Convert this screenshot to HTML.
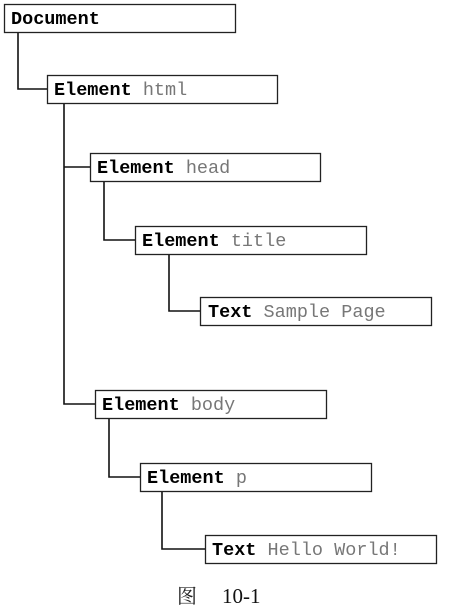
<!DOCTYPE html>
<html><head><meta charset="utf-8"><style>
html,body{margin:0;padding:0;background:#fff;width:451px;height:608px;overflow:hidden}
svg{display:block}
text{font-family:"Liberation Mono",monospace;font-size:18.5px}
.b{font-weight:bold;fill:#000}
.g{fill:#777}
</style></head><body>
<svg width="451" height="608" xmlns="http://www.w3.org/2000/svg">
<g fill="none" stroke="#111" stroke-width="1.6">
<path d="M18 33V89H47"/>
<path d="M64 103V404H95M64 167H90"/>
<path d="M104 181V240H135"/>
<path d="M169 254V311H201"/>
<path d="M109 418V477H140"/>
<path d="M162 491V549H205"/>
</g>
<g fill="#fff" stroke="#222" stroke-width="1.3">
<rect x="4.5" y="4.5" width="231" height="28"/>
<rect x="47.5" y="75.5" width="230" height="28"/>
<rect x="90.5" y="153.5" width="230" height="28"/>
<rect x="135.5" y="226.5" width="231" height="28"/>
<rect x="200.5" y="297.5" width="231" height="28"/>
<rect x="95.5" y="390.5" width="231" height="28"/>
<rect x="140.5" y="463.5" width="231" height="28"/>
<rect x="205.5" y="535.5" width="231" height="28"/>
</g>
<text x="11" y="24" class="b">Document</text>
<text x="54" y="95"><tspan class="b">Element</tspan><tspan class="g"> html</tspan></text>
<text x="97" y="173"><tspan class="b">Element</tspan><tspan class="g"> head</tspan></text>
<text x="142" y="246"><tspan class="b">Element</tspan><tspan class="g"> title</tspan></text>
<text x="208" y="317"><tspan class="b">Text</tspan><tspan class="g"> Sample Page</tspan></text>
<text x="102" y="410"><tspan class="b">Element</tspan><tspan class="g"> body</tspan></text>
<text x="147" y="483"><tspan class="b">Element</tspan><tspan class="g"> p</tspan></text>
<text x="212" y="555"><tspan class="b">Text</tspan><tspan class="g"> Hello World!</tspan></text>
<text x="177" y="603" style="font-family:'Noto Serif CJK SC','Noto Sans CJK SC',serif;font-size:20px;fill:#222">图</text>
<text x="222" y="603" style="font-family:'Liberation Serif',serif;font-size:21px;fill:#111">10-1</text>
</svg>
</body></html>
